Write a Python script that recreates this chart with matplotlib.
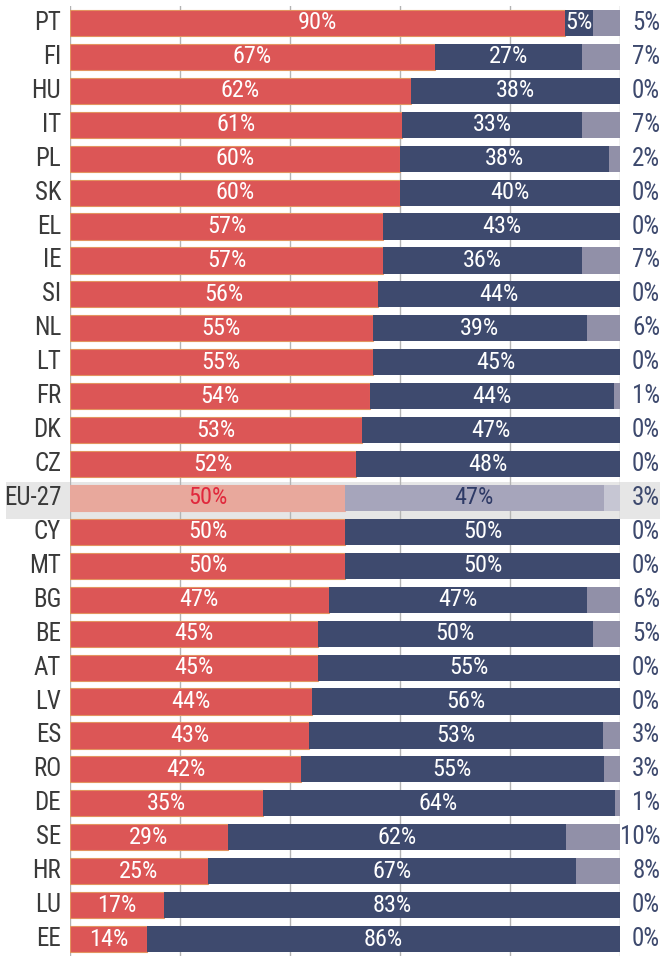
import numpy as np
import matplotlib
matplotlib.use('Agg')
import matplotlib.pyplot as plt
from matplotlib import font_manager
from matplotlib.patches import Rectangle

countries = ['PT', 'FI', 'HU', 'IT', 'PL', 'SK', 'EL', 'IE', 'SI', 'NL', 'LT', 'FR', 'DK', 'CZ',
             'EU-27', 'CY', 'MT', 'BG', 'BE', 'AT', 'LV', 'ES', 'RO', 'DE', 'SE', 'HR', 'LU', 'EE']
share_a = [90, 67, 62, 61, 60, 60, 57, 57, 56, 55, 55, 54, 53, 52,
           50, 50, 50, 47, 45, 45, 44, 43, 42, 35, 29, 25, 17, 14]
share_b = [5, 27, 38, 33, 38, 40, 43, 36, 44, 39, 45, 44, 47, 48,
           47, 50, 50, 47, 50, 55, 56, 53, 55, 64, 62, 67, 83, 86]
share_c = [5, 7, 0, 7, 2, 0, 0, 7, 0, 6, 0, 1, 0, 0,
           3, 0, 0, 6, 5, 0, 0, 3, 3, 1, 10, 8, 0, 0]

# pick a narrow font if one is around
installed = {f.name for f in font_manager.fontManager.ttflist}
narrow = [f for f in ['Roboto Condensed', 'Liberation Sans Narrow', 'DejaVu Sans Condensed',
                      'Open Sans Condensed', 'Noto Sans Condensed'] if f in installed]
if narrow:
    plt.rcParams['font.family'] = [narrow[0], 'DejaVu Sans']
    FS_BAR, FS_LAB = 17.5, 18
else:
    plt.rcParams['font.family'] = ['DejaVu Sans']
    plt.rcParams['font.stretch'] = 'condensed'
    FS_BAR, FS_LAB = 15, 16

RED, NAVY, GREY = '#dc5656', '#3e4a6e', '#9190a8'
RED_L, NAVY_L, GREY_L = '#e8a89c', '#a6a5bb', '#c6c6d3'

W, H = 660, 956
fig = plt.figure(figsize=(W / 100, H / 100), dpi=100)
ax = fig.add_axes([70 / W, 0, 550 / W, 1 - 6 / H])
ax.set_zorder(2)
ax.patch.set_alpha(0)

n = len(countries)
a = np.array(share_a, float)
b = np.array(share_b, float)
c = np.array(share_c, float)
tot = a + b + c
wa, wb, wc = a / tot * 100, b / tot * 100, c / tot * 100

eu = countries.index('EU-27')
# highlight band for EU-27
band = Rectangle((6 / W, 1 - 519 / H), 1 - 6 / W, 37 / H, transform=fig.transFigure,
                 facecolor='#e6e6e6', edgecolor='none', zorder=0)
fig.patches.append(band)

for xv in range(0, 101, 20):
    ax.axvline(xv, color='#b4b4b4', lw=1, zorder=1)

pct = '{}%'
for i in range(n):
    hl = i == eu
    ca = RED_L if hl else RED
    cb = NAVY_L if hl else NAVY
    cc = GREY_L if hl else GREY
    h = 0.77
    ax.barh(i, wa[i], height=h, color=ca, edgecolor='#e39460' if not hl else ca, lw=0.8, zorder=3)
    ax.barh(i, wb[i], left=wa[i], height=h, color=cb, lw=0, zorder=3)
    if wc[i] > 0:
        ax.barh(i, wc[i], left=wa[i] + wb[i], height=h, color=cc, lw=0, zorder=3)
    ta = '#e0283c' if hl else 'white'
    tb = '#2e3a66' if hl else 'white'
    ax.text(wa[i] / 2, i, pct.format(share_a[i]), ha='center', va='center', color=ta,
            fontsize=FS_BAR, zorder=4)
    ax.text(wa[i] + wb[i] / 2, i, pct.format(share_b[i]), ha='center', va='center', color=tb,
            fontsize=FS_BAR, zorder=4)
    ax.text(-1.6, i, countries[i], ha='right', va='center', color='#3a3a3a', fontsize=FS_LAB,
            clip_on=False)
    ax.text(107.3, i, pct.format(share_c[i]), ha='right', va='center', color=NAVY,
            fontsize=FS_LAB, clip_on=False)

ax.set_xlim(0, 100)
ax.set_ylim(n - 0.5, -0.5)
ax.axis('off')

plt.savefig('out.png', dpi=100)
